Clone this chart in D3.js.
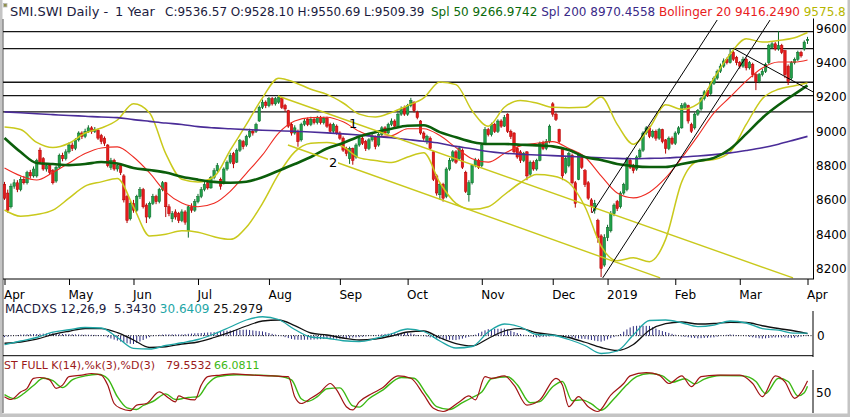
<!DOCTYPE html>
<html>
<head>
<meta charset="utf-8">
<script src="https://cdn.jsdelivr.net/npm/d3@7"></script>
<style>
html,body{margin:0;padding:0;background:#fff;}
svg{display:block;font-family:"DejaVu Sans",Verdana,sans-serif;}
text{white-space:pre;}
</style>
</head>
<body>
<div id="chart"></div>
<script>
// ════════════════════════════════════════════════
//  DATA  (Apr 2018 – Apr 2019)
// ════════════════════════════════════════════════
const monthLabels=["Apr","May","Jun","Jul","Aug","Sep","Oct","Nov","Dec","2019","Feb","Mar","Apr"];
const monthDays=[20,20,20,22,22,21,23,22,17,21,20,21];   // sessions per month
const priceTicks=[8200,8400,8600,8800,9000,9200,9400,9600];
const levels=[9581,9482,9286,9208,9113];                  // horizontal lines

// daily candles [open, high, low, close]
const ohlc=[
[8690,8705,8600,8610],[8640,8660,8525,8540],[8560,8695,8550,8680],[8680,8720,8665,8700],[8700,8715,8645,8660],
[8660,8735,8650,8720],[8720,8740,8690,8700],[8700,8770,8690,8760],[8760,8775,8725,8740],[8740,8795,8730,8780],
[8740,8840,8730,8830],[8890,8905,8810,8820],[8840,8850,8770,8780],[8780,8815,8765,8800],[8800,8810,8750,8760],
[8770,8780,8690,8700],[8710,8800,8700,8790],[8790,8870,8780,8860],[8860,8875,8825,8840],[8840,8895,8830,8880],
[8880,8935,8870,8920],[8920,8935,8885,8900],[8900,8960,8890,8950],[8950,9000,8940,8990],[8990,9000,8955,8970],
[8970,9015,8960,9000],[9000,9035,8990,9020],[9020,9030,8985,9000],[9000,9025,8990,9010],[9005,9015,8950,8960],
[8975,8985,8925,8940],[8960,8970,8915,8930],[8920,8925,8790,8800],[8790,8845,8775,8830],[8830,8840,8770,8780],
[8780,8815,8765,8800],[8800,8810,8745,8760],[8740,8750,8585,8600],[8620,8630,8465,8480],[8490,8595,8480,8580],
[8580,8600,8525,8540],[8540,8630,8530,8620],[8620,8675,8605,8660],[8660,8670,8550,8560],[8570,8580,8465,8500],
[8500,8590,8490,8580],[8580,8635,8570,8620],[8620,8630,8575,8590],[8590,8670,8580,8660],[8660,8710,8650,8700],
[8700,8705,8500,8560],[8560,8575,8505,8520],[8490,8535,8470,8520],[8530,8545,8485,8500],[8520,8530,8465,8480],
[8480,8545,8470,8530],[8530,8540,8455,8470],[8420,8570,8380,8560],[8560,8580,8525,8540],[8540,8605,8530,8590],
[8590,8635,8580,8620],[8620,8675,8610,8660],[8660,8705,8650,8690],[8700,8710,8660,8670],[8670,8740,8665,8730],
[8730,8785,8720,8770],[8770,8815,8760,8800],[8720,8730,8660,8680],[8700,8790,8690,8780],[8780,8830,8770,8820],
[8820,8875,8810,8860],[8870,8880,8785,8810],[8820,8900,8815,8890],[8890,8955,8880,8945],[8940,8950,8895,8910],
[8920,8980,8910,8970],[8970,9015,8960,9000],[9000,9010,8975,8990],[9000,9050,8990,9040],[9060,9150,9055,9140],
[9140,9185,9130,9170],[9170,9180,9135,9150],[9150,9200,9140,9190],[9190,9200,9150,9160],[9160,9200,9150,9190],
[9170,9212,9160,9200],[9190,9198,9130,9140],[9150,9160,9115,9130],[9120,9125,9020,9030],[9040,9050,8975,8990],
[8990,9035,8980,9020],[9000,9010,8910,8940],[8950,9050,8940,9040],[9040,9075,9030,9060],[9070,9080,9030,9040],
[9040,9085,9030,9070],[9070,9080,9040,9050],[9050,9090,9040,9080],[9080,9090,9040,9050],[9050,9085,9040,9075],
[9075,9085,9020,9030],[9040,9050,8990,9000],[9000,9050,8990,9040],[9030,9040,8980,8990],[8990,9000,8950,8960],
[8960,8970,8880,8890],[8900,8910,8855,8870],[8840,8910,8810,8900],[8900,8905,8805,8830],[8850,8930,8840,8920],
[8920,8970,8910,8960],[8960,8970,8920,8930],[8940,8950,8885,8900],[8900,8960,8890,8950],[8950,8985,8940,8970],
[8970,8975,8895,8910],[8920,8990,8910,8980],[8980,9030,8970,9020],[9020,9030,8980,8990],[8990,9050,8985,9040],
[9040,9075,9030,9060],[9060,9070,9020,9030],[9030,9110,9025,9100],[9100,9145,9090,9130],[9140,9150,9090,9100],
[9100,9160,9090,9150],[9150,9195,9140,9180],[9170,9175,9110,9120],[9110,9120,9070,9080],[9060,9065,8980,8990],
[8990,9000,8945,8960],[8940,8980,8925,8970],[8960,8970,8890,8900],[8880,8885,8710,8720],[8740,8750,8625,8640],
[8630,8700,8600,8690],[8690,8700,8590,8610],[8620,8790,8610,8780],[8780,8845,8770,8830],[8830,8890,8820,8880],
[8880,8890,8810,8820],[8840,8915,8830,8900],[8890,8900,8780,8790],[8760,8770,8640,8650],[8630,8715,8590,8700],
[8700,8810,8690,8800],[8800,8845,8790,8830],[8830,8840,8780,8790],
[8800,8930,8790,8920],[8930,9025,8920,9010],[9010,9020,8970,8980],[8980,9050,8970,9040],[9040,9050,8990,9000],
[9000,9070,8990,9060],[9060,9070,9020,9030],[9030,9095,9025,9080],[9100,9105,8990,9000],[9000,9010,8955,8970],
[8990,8995,8870,8880],[8900,8910,8840,8850],[8880,8890,8815,8830],[8830,8880,8820,8870],[8880,8885,8715,8740],
[8750,8830,8740,8820],[8820,8830,8770,8780],[8780,8840,8770,8830],[8830,8940,8825,8930],[8930,8945,8890,8900],
[8900,8955,8890,8940],[8940,9040,8930,9030],
[9160,9170,9085,9100],[9100,9110,9060,9070],[9010,9015,8930,8940],[8900,8905,8715,8740],[8760,8850,8750,8840],
[8800,8880,8790,8870],[8860,8870,8690,8700],[8700,8710,8555,8580],[8720,8875,8715,8860],[8850,8860,8780,8790],
[8770,8780,8675,8690],[8700,8710,8600,8610],[8600,8610,8525,8560],[8540,8600,8520,8580],[8480,8490,8350,8380],
[8390,8400,8150,8200],[8220,8400,8210,8380],
[8380,8455,8360,8440],[8420,8535,8410,8520],[8520,8580,8505,8570],[8590,8600,8535,8550],[8560,8650,8550,8640],
[8640,8700,8630,8690],[8660,8850,8650,8840],[8830,8845,8780,8790],[8800,8810,8755,8770],[8780,8860,8770,8850],
[8850,8900,8840,8890],[8890,9000,8880,8990],[8990,9030,8980,9020],[9020,9030,8960,8970],[8970,9010,8960,9000],
[9000,9010,8945,8960],[8960,9020,8950,9010],[9010,9015,8930,8940],[8950,8955,8870,8900],[8900,8970,8890,8960],
[8960,8970,8920,8930],
[8930,9000,8920,8990],[8990,9030,8980,9020],[9020,9165,9015,9150],[9140,9170,9130,9160],[9150,9155,9045,9060],
[9040,9050,8990,9000],[9020,9110,9010,9100],[9100,9130,9090,9120],[9130,9200,9120,9190],[9190,9240,9180,9230],
[9240,9250,9200,9210],[9220,9290,9210,9280],[9280,9320,9270,9310],[9310,9360,9300,9350],[9350,9395,9340,9380],
[9380,9425,9370,9410],[9420,9430,9390,9400],[9400,9485,9395,9450],[9460,9470,9410,9420],[9430,9440,9385,9400],
[9400,9410,9365,9380],[9380,9435,9370,9420],[9420,9430,9355,9370],[9370,9410,9360,9400],[9390,9400,9315,9330],
[9330,9340,9240,9290],[9290,9340,9280,9330],[9330,9365,9320,9350],[9350,9400,9340,9390],[9400,9510,9390,9500],
[9490,9520,9480,9510],[9510,9520,9470,9480],[9480,9585,9470,9500],[9500,9510,9450,9460],[9470,9475,9310,9330],
[9380,9390,9270,9290],[9310,9410,9300,9400],[9400,9430,9390,9420],[9420,9470,9410,9460],[9460,9470,9430,9440],
[9480,9530,9470,9520],[9528.10,9550.69,9509.39,9536.57]
];

// indicators sampled every 5 sessions (last value = last session)
const SAMPLE=5;
const sma50=[8961,8879,8815,8809,8803,8809,8821,8812,8786,8774,8760,8735,8718,8705,8700,8706,8732,8770,8809,8850,
  8900,8932,8970,8995,9015,9032,9035,8995,8965,8938,8926,8926,8922,8918,8912,8891,8850,8833,8809,8797,
  8792,8792,8809,8827,8845,8897,8985,9078,9153,9217,9266.97];
const sma200=[9113,9108,9102,9097,9092,9088,9083,9080,9068,9058,9048,9040,9027,9020,9015,9010,9006,9003,9000,8996,
  8991,8985,8978,8970,8962,8952,8942,8930,8912,8898,8882,8872,8866,8862,8858,8854,8850,8846,8842,8840,
  8842,8844,8850,8856,8864,8874,8888,8904,8925,8950,8970.46];
const bbMid=[8786,8740,8716,8760,8815,8870,8903,8909,8850,8757,8645,8582,8560,8580,8650,8755,8862,8990,9060,9080,
  9082,9055,9000,8970,8975,9015,9015,8975,8905,8840,8820,8870,8915,8930,8940,8900,8850,8740,8640,8612,
  8645,8728,8845,8973,9107,9200,9293,9369,9404,9404,9416.25];
const bbUpper=[9025,9010,8935,8905,8930,8990,9019,9066,9160,9107,8870,8720,8705,8735,8890,9040,9195,9310,9285,9245,
  9215,9165,9100,9083,9110,9150,9195,9288,9272,9120,9030,9140,9180,9165,9140,9138,9140,9200,9040,8925,
  9020,9155,9128,9160,9310,9450,9540,9520,9530,9545,9575.8];
const bbLower=[8541,8505,8515,8540,8610,8680,8705,8725,8560,8390,8400,8420,8412,8385,8370,8440,8580,8750,8880,8930,
  8935,8910,8845,8830,8818,8850,8875,8700,8580,8545,8560,8630,8700,8748,8740,8700,8560,8330,8245,8262,
  8240,8370,8705,8825,8835,8880,9040,9190,9245,9265,9282];

// drawn trendlines [session, price]
const blackLines=[[[182.2,8524],[221,9649]],[[185.5,8145],[237.4,9649]],[[225.9,9485],[250.7,9230]]];
const yellowLines=[[[84.8,9206],[244.5,8145]],[[87.9,8920],[203.3,8145]]];

// MACD 12,26,9 (sampled every 5 sessions) + daily histogram
const macdLine=[-108,-64,-22,42,71,98,92,-22,-152,-160,-118,-85,-46,20,104,188,227,194,74,-16,
  -31,-61,-70,-34,23,80,50,-64,-148,-130,44,140,104,14,5,-46,-118,-214,-184,8,
  182,188,155,108,126,176,152,85,66,30,30.64];
const signalLine=[-91,-76,-42,14,53,86,84,37,-52,-142,-133,-100,-76,-22,42,116,176,188,121,32,
  8,-28,-52,-40,-4,44,56,-25,-95,-124,-34,56,84,35,11,-22,-79,-142,-178,-106,
  65,144,164,140,146,161,158,119,86,56,25.30];
const macdHist=[
  -17,-11,-5,1,7, 12,14,16,18,19, 20,22,24,26,27, 28,26,23,21,19, 18,17,15,14,13, 12,11,10,9,8,
  8,-5,-20,-34,-47, -59,-70,-82,-92,-98, -100,-88,-70,-52,-34, -18,-6,4,10,13, 15,15,16,15,15,
  15,18,22,25,28, 30,32,35,38,40, 42,46,50,55,59, 62,64,67,69,71, 72,68,63,58,54, 51,42,32,22,13,
  6,-6,-18,-29,-39, -47,-49,-50,-49,-48, -48,-46,-44,-42,-40, -39,-38,-37,-35,-34, -33,-30,-26,-22,-20,
  -18,-13,-8,-3,2, 6,11,16,21,24, 27,29,31,33,35, 36,27,17,7,-1, -6,-13,-20,-27,-33,
  -39,-42,-46,-49,-51, -53,-45,-35,-24,-14, -6,12,30,48,64, 78,80,82,83,84, 84,72,58,44,32,
  20,11,2,-7,-15, -21,-18,-14,-11,-8, -6,-9,-13,-17,-21, -24,-27,-31,-34,-37, -39,-45,-52,-60,-66,
  -72,-60,-45,-30,-17, -6,20,48,75,98, 114,118,120,119,118, 117,102,85,68,55, 44,33,22,11,1,
  -9,-14,-19,-24,-28, -32,-30,-27,-25,-22, -20,-12,-4,4,10, 15,12,7,2,-2, -6,-13,-20,-26,-31,
  -34,-31,-28,-24,-22, -20,-22,-23,-25,-26, -26,-19,-12,-4,5.34
];

// Stochastic full 14,3,3  [session, value]
const stochK=[[0,40],[2,33],[5,52],[7,61],[9,86],[11,88],[14,82],[16,61],[18,69],[20,90],[24,94],[27,98],[30,94],
  [32,69],[34,23],[36,11],[39,5],[41,19],[44,23],[48,52],[51,36],[53,27],[54,42],[56,36],[59,32],[61,69],[63,90],
  [67,94],[71,97],[77,94],[83,92],[88,90],[90,40],[92,23],[95,36],[98,52],[101,73],[103,57],[106,15],[108,7],
  [110,27],[114,48],[117,61],[122,92],[126,86],[130,45],[133,11],[136,3],[141,27],[144,42],[146,32],[149,90],
  [151,86],[155,92],[158,69],[162,19],[166,32],[171,86],[173,69],[175,15],[178,40],[181,15],[184,3],[188,44],
  [192,73],[194,92],[199,100],[203,94],[206,73],[210,92],[213,65],[216,90],[221,94],[228,94],[232,73],[235,40],
  [239,92],[242,77],[245,36],[247,50],[249,79.55]];
const stochD=[[0,45],[3,35],[6,48],[9,68],[12,86],[15,80],[18,63],[21,82],[25,92],[29,96],[32,85],[35,40],[38,12],
  [41,8],[43,18],[46,28],[50,47],[53,33],[55,35],[57,38],[60,40],[63,72],[66,90],[72,95],[78,94],[85,91],[89,82],
  [92,35],[94,28],[97,40],[100,60],[104,62],[108,17],[110,14],[113,35],[117,55],[123,88],[127,86],[131,45],
  [134,15],[138,8],[142,25],[145,38],[148,52],[151,85],[156,90],[159,70],[163,25],[166,28],[170,65],[173,78],
  [176,30],[179,32],[182,22],[185,6],[189,35],[193,70],[196,90],[200,98],[204,92],[207,76],[211,85],[214,72],
  [217,84],[222,93],[229,92],[233,78],[236,48],[240,86],[243,78],[246,42],[248,50],[249,66.08]];

// ════════════════════════════════════════════════
//  LAYOUT
// ════════════════════════════════════════════════
const W=850,H=417, L=3, R=813;
const LAST=ohlc.length-1;
const C={up:"#22a04a",upE:"#0c6a2a",dn:"#e41c1c",dnE:"#b30000",
  s50:"#0b5e0b",s200:"#4a2c98",mid:"#ee2b22",band:"#c9c91c",teal:"#1fa6a6",hist:"#2b2b7e",
  k:"#a01414",d:"#3cb814",txt:"#1b1b3e"};

const x=d3.scaleLinear().domain([0,LAST]).range([4.5,807.5]);
const yP=d3.scaleLinear().domain([8138.8,9660.6]).range([279,18]);
const yM=d3.scaleLinear().domain([-256,404]).range([357,302]);
const yS=d3.scaleLinear().domain([0,100]).range([412.7,372.7]);
const sampled=arr=>arr.map((v,k)=>[Math.min(k*SAMPLE,LAST),v]);

const svg=d3.select("#chart").append("svg").attr("width",W).attr("height",H);
svg.append("rect").attr("width",W).attr("height",H).attr("fill","#fff");

const defs=svg.append("defs");
[["cMain",18,279],["cMacd",303,356],["cSto",369,413]].forEach(([id,y0,y1])=>{
  defs.append("clipPath").attr("id",id).append("rect")
    .attr("x",L).attr("y",y0).attr("width",R-L).attr("height",y1-y0);
});

// window frame
svg.append("rect").attr("x",0).attr("y",0).attr("width",2.5).attr("height",H).attr("fill","#c4c4c4");
svg.append("rect").attr("x",0).attr("y",413.5).attr("width",W).attr("height",3.5).attr("fill","#c4c4c4");
svg.append("rect").attr("x",847.5).attr("y",0).attr("width",2.5).attr("height",H).attr("fill","#c4c4c4");
svg.append("line").attr("x1",L).attr("x2",L).attr("y1",19).attr("y2",413).attr("stroke","#555").attr("stroke-width",1);

// one text line made of coloured runs; a run with x starts at that x, others flow on
function label(y,size,runs){
  const t=svg.append("text").attr("y",y).attr("font-size",size);
  runs.forEach(([s,col,px,fs])=>{
    const sp=t.append("tspan").attr("fill",col).text(s);
    if(px!=null) sp.attr("x",px);
    if(fs) sp.attr("font-size",fs);
  });
  return t;
}

// ── header
svg.append("rect").attr("x",3.5).attr("y",3.5).attr("width",3.5).attr("height",3.5)
  .attr("fill","#8f8f4a").attr("stroke","#bbb").attr("stroke-width",0.8);
label(16,12,[["SMI.SWI Daily -",C.txt,10,13],["1 Year",C.txt,115,13],
  ["C:9536.57 O:9528.10 H:9550.69 L:9509.39",C.txt,165],
  ["Spl 50 9266.9742 ","#0a6a0a",431],["Spl 200 8970.4558 ","#3a2a88"],
  ["Bollinger 20 9416.2490 ","#e8201c"],["9575.8","#b6b600"]]);

// ════════════════════════════════════════════════
//  MAIN PRICE PANEL
// ════════════════════════════════════════════════
const main=svg.append("g").attr("clip-path","url(#cMain)");
const pLine=d3.line().x(d=>x(d[0])).y(d=>yP(d[1])).curve(d3.curveMonotoneX);

// horizontal levels
main.selectAll(".lvl").data(levels).join("line").attr("class","lvl")
  .attr("x1",L).attr("x2",R).attr("y1",d=>yP(d)).attr("y2",d=>yP(d))
  .attr("stroke","#151515").attr("stroke-width",1.4);

// candles
const up=d=>d[3]>=d[0];
main.append("g").selectAll("line").data(ohlc).join("line")
  .attr("x1",(d,i)=>x(i)).attr("x2",(d,i)=>x(i))
  .attr("y1",d=>yP(d[1])).attr("y2",d=>yP(d[2]))
  .attr("stroke",d=>up(d)?C.upE:C.dnE).attr("stroke-width",1);
main.append("g").selectAll("rect").data(ohlc).join("rect")
  .attr("x",(d,i)=>x(i)-1.25).attr("width",2.5)
  .attr("y",d=>yP(Math.max(d[0],d[3])))
  .attr("height",d=>Math.max(1,Math.abs(yP(d[0])-yP(d[3]))))
  .attr("fill",d=>up(d)?C.up:C.dn).attr("stroke",d=>up(d)?C.upE:C.dnE).attr("stroke-width",0.5);

// bollinger, averages
[[bbUpper,C.band,1.5],[bbLower,C.band,1.5],[bbMid,C.mid,1.1],[sma200,C.s200,1.6],[sma50,C.s50,2.6]]
  .forEach(([arr,col,w])=>{
    main.append("path").attr("d",pLine(sampled(arr))).attr("fill","none")
      .attr("stroke",col).attr("stroke-width",w);
  });

// trendlines
const tLine=d3.line().x(d=>x(d[0])).y(d=>yP(d[1]));
main.selectAll(".ty").data(yellowLines).join("path").attr("class","ty")
  .attr("d",tLine).attr("fill","none").attr("stroke",C.band).attr("stroke-width",1.4);
main.selectAll(".tb").data(blackLines).join("path").attr("class","tb")
  .attr("d",tLine).attr("fill","none").attr("stroke","#000").attr("stroke-width",1);

main.append("rect").attr("x",328).attr("y",155).attr("width",10).attr("height",14).attr("fill","#fff");
main.append("text").attr("x",349).attr("y",128).attr("font-size",13).attr("fill","#000").text("1");
main.append("text").attr("x",329).attr("y",167).attr("font-size",13).attr("fill","#000").text("2");

// price axis
const axP=svg.append("g").attr("transform",`translate(${R},0)`)
  .call(d3.axisRight(yP).tickValues(priceTicks).tickFormat(d3.format("d")).tickSize(0).tickPadding(3).tickSizeOuter(0));
axP.select(".domain").attr("stroke","#000");
axP.selectAll("text").attr("font-size",12).attr("font-family","'DejaVu Sans',sans-serif").attr("fill","#000");

// date axis
const monthIdx=monthDays.reduce((a,n)=>(a.push(a[a.length-1]+n),a),[0]);
svg.append("line").attr("x1",L).attr("x2",R).attr("y1",279).attr("y2",279).attr("stroke","#000");
const axX=svg.append("g").attr("transform","translate(0,279)")
  .call(d3.axisBottom(x).tickValues(monthIdx).tickSize(6).tickSizeOuter(0).tickFormat((d,i)=>monthLabels[i]));
axX.select(".domain").remove();
axX.selectAll("line").attr("stroke","#000");
axX.selectAll("text").attr("font-size",12).attr("font-family","'DejaVu Sans',sans-serif")
  .attr("fill","#000").attr("text-anchor","start").attr("x",-1).attr("y",11).attr("dy","0.71em");

// ════════════════════════════════════════════════
//  MACD PANEL
// ════════════════════════════════════════════════
const mac=svg.append("g").attr("clip-path","url(#cMacd)");
mac.append("line").attr("x1",L).attr("x2",R).attr("y1",yM(0)).attr("y2",yM(0))
  .attr("stroke","#000").attr("stroke-dasharray","1,1.5");
mac.append("g").selectAll("line").data(macdHist).join("line")
  .attr("x1",(d,i)=>x(i)).attr("x2",(d,i)=>x(i)).attr("y1",yM(0)).attr("y2",d=>yM(d))
  .attr("stroke",C.hist).attr("stroke-width",1);
const mLine=d3.line().x(d=>x(d[0])).y(d=>yM(d[1])).curve(d3.curveMonotoneX);
mac.append("path").attr("d",mLine(sampled(signalLine))).attr("fill","none").attr("stroke","#111").attr("stroke-width",1.3);
mac.append("path").attr("d",mLine(sampled(macdLine))).attr("fill","none").attr("stroke",C.teal).attr("stroke-width",1.3);

svg.append("line").attr("x1",L).attr("x2",R).attr("y1",355.7).attr("y2",355.7).attr("stroke","#000");
const axM=svg.append("g").attr("transform",`translate(${R},0)`)
  .call(d3.axisRight(yM).tickValues([0]).tickSize(0).tickPadding(4).tickSizeOuter(0));
axM.select(".domain").attr("d","M0,311V357").attr("stroke","#000");
axM.selectAll("text").attr("font-size",12).attr("font-family","'DejaVu Sans',sans-serif").attr("fill","#000");

label(312.5,12,[["MACDXS 12,26,9  5.3430 ",C.txt,5],["30.6409 ",C.teal],["25.2979","#111"]]);

// ════════════════════════════════════════════════
//  STOCHASTIC PANEL
// ════════════════════════════════════════════════
const sto=svg.append("g").attr("clip-path","url(#cSto)");
const sLine=d3.line().x(d=>x(d[0])).y(d=>yS(d[1])).curve(d3.curveMonotoneX);
sto.append("path").attr("d",sLine(stochD)).attr("fill","none").attr("stroke",C.d).attr("stroke-width",1.4);
sto.append("path").attr("d",sLine(stochK)).attr("fill","none").attr("stroke",C.k).attr("stroke-width",1.2);

const axS=svg.append("g").attr("transform",`translate(${R},0)`)
  .call(d3.axisRight(yS).tickValues([50]).tickSize(0).tickPadding(3).tickSizeOuter(0));
axS.select(".domain").attr("d","M0,370V413").attr("stroke","#000");
axS.selectAll("text").attr("font-size",12).attr("font-family","'DejaVu Sans',sans-serif").attr("fill","#000");

label(368.5,11,[["ST FULL K(14),%k(3),%D(3)","#9b1a1a",4],["79.5532","#9b1a1a",166],["66.0811",C.d,214]]);
</script>
</body>
</html>
